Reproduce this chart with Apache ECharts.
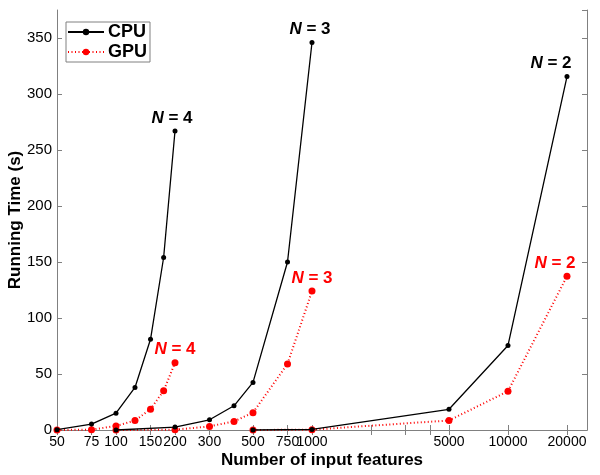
<!DOCTYPE html>
<html>
<head>
<meta charset="utf-8">
<script src="https://cdn.jsdelivr.net/npm/echarts@6/dist/echarts.min.js"></script>
<style>html,body{margin:0;padding:0;background:#fff}#c{width:600px;height:475px}</style>
</head>
<body>
<div id="c"></div>
<script>
// x positions (number of input features)
var xN4 = [50, 75, 100, 125, 150, 175, 200];
var xN3 = [100, 200, 300, 400, 500, 750, 1000];
var xN2 = [500, 1000, 5000, 10000, 20000];
// running times (s)
var cpuN4 = [0.3, 5.3, 15, 38, 81, 154, 267];
var gpuN4 = [0, 0.3, 3.6, 8.4, 18.6, 35, 60];
var cpuN3 = [0, 2.6, 9.1, 21.6, 42.5, 150, 346];
var gpuN3 = [0, 0.3, 3.2, 7.7, 15.5, 59, 124];
var cpuN2 = [0, 0.5, 18.5, 75.5, 315.6];
var gpuN2 = [0, 0.3, 8.5, 34.6, 137.3];
// tick labels
var xTickLabels = [50, 75, 100, 150, 200, 300, 500, 750, 1000, 5000, 10000, 20000];
var xMinorTicks = [2000, 3000, 4000];
var nValues = ['4', '3', '2'];

var FONT = '"Liberation Sans", Arial, Helvetica, sans-serif';
var AXC = '#808080';

function pairs(xs, ys) {
  return xs.map(function (x, i) { return [x, ys[i]]; });
}
function withEndLabel(data, nval, color, dx) {
  var last = data[data.length - 1];
  data[data.length - 1] = {
    value: last,
    label: {
      show: true,
      position: 'inside',
      offset: [dx, -13],
      formatter: '{n|N}{t| = ' + nval + '}',
      rich: {
        n: {fontFamily: FONT, fontSize: 17, fontWeight: 'bold', fontStyle: 'italic', color: color},
        t: {fontFamily: FONT, fontSize: 17, fontWeight: 'bold', color: color}
      }
    }
  };
  return data;
}
function cpuSeries(xs, ys, nval, dx) {
  return {
    name: 'CPU', type: 'line', xAxisIndex: 0, yAxisIndex: 0,
    data: withEndLabel(pairs(xs, ys), nval, '#000', dx),
    symbol: 'circle', symbolSize: 5,
    itemStyle: {color: '#000'},
    lineStyle: {color: '#000', width: 1.3, type: 'solid'},
    z: 3, animation: false
  };
}
function gpuSeries(xs, ys, nval, dx) {
  return {
    name: 'GPU', type: 'line', xAxisIndex: 0, yAxisIndex: 0,
    data: withEndLabel(pairs(xs, ys), nval, '#ff0000', dx),
    symbol: 'circle', symbolSize: 7,
    itemStyle: {color: '#ff0000'},
    lineStyle: {color: '#ff0000', width: 2, type: [1, 2.5]},
    z: 2, animation: false
  };
}

var chart = echarts.init(document.getElementById('c'), null, {renderer: 'canvas'});
var xCommon = {
  type: 'log', logBase: 10, min: 50, max: 25300,
  axisLine: {show: true, lineStyle: {color: AXC, width: 1}},
  splitLine: {show: false}, minorTick: {show: false}
};
chart.setOption({
  animation: false,
  backgroundColor: '#fff',
  grid: {left: 57, right: 13, top: 10, bottom: 45, containLabel: false, outerBoundsMode: 'none'},
  legend: {
    orient: 'vertical', left: 66, top: 22,
    data: ['CPU', 'GPU'],
    itemWidth: 36, itemHeight: 8, itemGap: 2,
    padding: [1, 3, 1, 1],
    borderColor: AXC, borderWidth: 1, backgroundColor: '#fff',
    textStyle: {fontFamily: FONT, fontSize: 18, fontWeight: 'bold', color: '#000', padding: [0, 0, 0, -1]}
  },
  xAxis: [
    Object.assign({}, xCommon, {
      position: 'bottom',
      name: 'Number of input features', nameLocation: 'middle', nameGap: 22, nameMoveOverlap: false,
      nameTextStyle: {fontFamily: FONT, fontSize: 17, fontWeight: 'bold', color: '#000'},
      axisTick: {show: true, inside: true, length: 5, lineStyle: {color: AXC}, customValues: xTickLabels.concat(xMinorTicks)},
      axisLabel: {show: true, customValues: xTickLabels, fontFamily: FONT, fontSize: 14, color: '#000', margin: 5,
        formatter: function (v) { return String(Math.round(v)); }}
    }),
    Object.assign({}, xCommon, {
      position: 'top',
      axisTick: {show: true, inside: true, length: 5, lineStyle: {color: AXC}, customValues: xTickLabels.concat(xMinorTicks)},
      axisLabel: {show: false}
    })
  ],
  yAxis: [
    {
      type: 'value', min: 0, max: 375, interval: 50, position: 'left',
      name: 'Running Time (s)', nameLocation: 'middle', nameGap: 33, nameMoveOverlap: false,
      nameTextStyle: {fontFamily: FONT, fontSize: 17, fontWeight: 'bold', color: '#000'},
      axisLine: {show: true, lineStyle: {color: AXC}},
      axisTick: {show: true, inside: true, length: 5, lineStyle: {color: AXC}},
      axisLabel: {fontFamily: FONT, fontSize: 15, color: '#000', margin: 5, showMaxLabel: false},
      splitLine: {show: false}
    },
    {
      type: 'value', min: 0, max: 375, interval: 50, position: 'right',
      axisLine: {show: true, lineStyle: {color: AXC}},
      axisTick: {show: true, inside: true, length: 5, lineStyle: {color: AXC}},
      axisLabel: {show: false},
      splitLine: {show: false}
    }
  ],
  series: [
    cpuSeries(xN4, cpuN4, nValues[0], -3),
    gpuSeries(xN4, gpuN4, nValues[0], 0),
    cpuSeries(xN3, cpuN3, nValues[1], -2),
    gpuSeries(xN3, gpuN3, nValues[1], 0),
    cpuSeries(xN2, cpuN2, nValues[2], -16),
    gpuSeries(xN2, gpuN2, nValues[2], -12)
  ]
});
</script>
</body>
</html>
